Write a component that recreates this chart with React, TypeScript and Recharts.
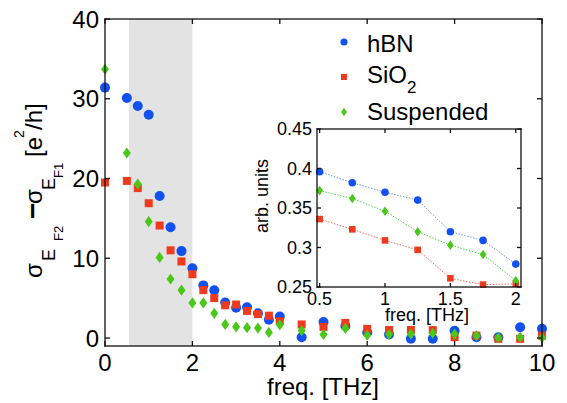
import React from "react";
import { ScatterChart, Scatter, LineChart, Line, XAxis, YAxis, ReferenceArea } from "recharts";

const FONT = "'Liberation Sans', Arial, Helvetica, sans-serif";
const BLUE = "#1250f0";
const RED = "#ee3a1e";
const GREEN = "#4ac81a";

// main panel: conductivity difference vs frequency
const freq = [0, 0.5, 0.75, 1, 1.25, 1.5, 1.75, 2, 2.25, 2.5, 2.75, 3, 3.25, 3.5, 3.75, 4, 4.5, 5, 5.5, 6, 6.5, 7, 7.5, 8, 8.5, 9, 9.5, 10];
const hbn = [31.4, 30.1, 29.1, 28.0, 17.8, 13.9, 10.9, 8.75, 6.6, 6.0, 4.45, 3.8, 3.85, 3.1, 2.3, 2.7, 0.1, 2.0, 1.5, 0.7, 0.45, -0.1, -0.1, 0.9, 0.1, 0.1, 1.35, 1.15];
const sio2 = [19.5, 19.7, 18.8, 16.9, 14.1, 11.0, 9.6, 8.0, 6.0, 5.0, 4.1, 4.2, 3.4, 3.0, 2.8, 2.1, 1.7, 1.4, 1.9, 1.15, 1.0, 1.0, 1.0, 0.1, 0.3, -0.1, -0.1, 0.3];
const suspended = [33.7, 23.2, 19.3, 14.6, 10.1, 7.4, 6.0, 4.4, 4.4, 3.1, 1.7, 1.4, 1.3, 1.25, 0.7, 1.65, 0.94, 0.44, 1.2, 0.35, 0.44, 0.5, 0.6, 0.5, 0.3, 0.05, 0.1, 0.05];
const xDomain = [0, 10];
const yDomain = [-1, 40];
const xTicks = [0, 2, 4, 6, 8, 10];
const yTicks = [0, 10, 20, 30, 40];
const band = [0.55, 2];

// inset
const insetFreq = [0.5, 0.75, 1, 1.25, 1.5, 1.75, 2];
const insetHbn = [0.396, 0.382, 0.37, 0.36, 0.32, 0.309, 0.279];
const insetSio2 = [0.336, 0.323, 0.309, 0.297, 0.261, 0.253, 0.254];
const insetSusp = [0.372, 0.362, 0.346, 0.32, 0.303, 0.291, 0.258];
const insetXDomain = [0.48, 2.04];
const insetYDomain = [0.25, 0.45];
const insetXTicks = [0.5, 1, 1.5, 2];
const insetYTicks = [0.25, 0.3, 0.35, 0.4, 0.45];

const toPoints = (ys: number[]) => freq.map((x, i) => ({ x, y: ys[i] }));
const insetData = insetFreq.map((f, i) => ({ f, hbn: insetHbn[i], sio2: insetSio2[i], susp: insetSusp[i] }));

// plot boxes in page pixels (follow from the chart sizes / margins below)
const MAIN = { left: 105, right: 542, top: 19, bottom: 346 };
const INSET_POS = { left: 250, top: 110, width: 290, height: 220 };
const INSET = { left: 250 + 67, right: 250 + 290 - 19, top: 110 + 19, bottom: 110 + 220 - 43 };

const Marker = ({ cx, cy, kind, color, s }: any) => {
  if (cx == null || cy == null) return null;
  if (kind === "circle") return <circle cx={cx} cy={cy} r={s} fill={color} />;
  if (kind === "square") return <rect x={cx - s} y={cy - s} width={2 * s} height={2 * s} fill={color} />;
  return (
    <polygon
      points={`${cx},${cy - 1.4 * s} ${cx + s},${cy} ${cx},${cy + 1.4 * s} ${cx - s},${cy}`}
      fill={color}
    />
  );
};

// matlab style frame, inward ticks on every side (drawn as thin filled bars)
const Frame = ({ box, xd, yd, xt, yt, len }: any) => {
  const w = 1.3;
  const sx = (v: number) => box.left + ((v - xd[0]) / (xd[1] - xd[0])) * (box.right - box.left);
  const sy = (v: number) => box.bottom - ((v - yd[0]) / (yd[1] - yd[0])) * (box.bottom - box.top);
  const W = box.right - box.left;
  const H = box.bottom - box.top;
  return (
    <g fill="#111">
      <rect x={box.left - w / 2} y={box.top - w / 2} width={W + w} height={w} />
      <rect x={box.left - w / 2} y={box.bottom - w / 2} width={W + w} height={w} />
      <rect x={box.left - w / 2} y={box.top - w / 2} width={w} height={H + w} />
      <rect x={box.right - w / 2} y={box.top - w / 2} width={w} height={H + w} />
      {xt.map((t: number) => (
        <g key={`x${t}`}>
          <rect x={sx(t) - w / 2} y={box.bottom - len} width={w} height={len} />
          <rect x={sx(t) - w / 2} y={box.top} width={w} height={len} />
        </g>
      ))}
      {yt.map((t: number) => (
        <g key={`y${t}`}>
          <rect x={box.left} y={sy(t) - w / 2} width={len} height={w} />
          <rect x={box.right - len} y={sy(t) - w / 2} width={len} height={w} />
        </g>
      ))}
    </g>
  );
};

const legendRows = [
  { name: "hBN", sub: "", kind: "circle", color: BLUE, my: 42, base: 52, s: 3.6 },
  { name: "SiO", sub: "2", kind: "square", color: RED, my: 77, base: 83, s: 3 },
  { name: "Suspended", sub: "", kind: "diamond", color: GREEN, my: 112, base: 119.5, s: 3 },
];

export default function App() {
  const tickStyle = { fontSize: 24, fill: "#000", fontFamily: FONT };
  const insetTick = { fontSize: 18, fill: "#000", fontFamily: FONT };
  return (
    <div style={{ position: "absolute", left: 0, top: 0, width: 567, height: 403, background: "#fff" }}>
      <ScatterChart width={567} height={403} margin={{ top: 19, right: 25, bottom: 0, left: 0 }}>
        <ReferenceArea x1={band[0]} x2={band[1]} fill="#e3e3e3" fillOpacity={1} stroke="none" />
        <XAxis type="number" dataKey="x" domain={xDomain} ticks={xTicks} height={57}
          axisLine={false} tickLine={false} tickSize={-5} tickMargin={13} tick={tickStyle} />
        <YAxis type="number" dataKey="y" domain={yDomain} ticks={yTicks} width={105}
          axisLine={false} tickLine={false} tickSize={-5} tickMargin={11} tick={tickStyle} />
        <Scatter name="hBN" data={toPoints(hbn)} isAnimationActive={false}
          shape={(p: any) => <Marker cx={p.cx} cy={p.cy} kind="circle" color={BLUE} s={5} />} />
        <Scatter name="SiO2" data={toPoints(sio2)} isAnimationActive={false}
          shape={(p: any) => <Marker cx={p.cx} cy={p.cy} kind="square" color={RED} s={4} />} />
        <Scatter name="Suspended" data={toPoints(suspended)} isAnimationActive={false}
          shape={(p: any) => <Marker cx={p.cx} cy={p.cy} kind="diamond" color={GREEN} s={4} />} />
      </ScatterChart>

      <div style={{ position: "absolute", ...INSET_POS }}>
        <LineChart width={INSET_POS.width} height={INSET_POS.height} data={insetData} margin={{ top: 19, right: 19, bottom: 0, left: 0 }}>
          <XAxis type="number" dataKey="f" domain={insetXDomain} ticks={insetXTicks} height={43}
            axisLine={false} tickLine={false} tickSize={-4} tickMargin={9} tick={insetTick} />
          <YAxis type="number" domain={insetYDomain} ticks={insetYTicks} width={67}
            axisLine={false} tickLine={false} tickSize={-4} tickMargin={9} tick={insetTick} />
          <Line dataKey="hbn" stroke="#6f90f0" strokeWidth={1} strokeDasharray="1.5 1.5" isAnimationActive={false}
            dot={(p: any) => <Marker key={p.index} cx={p.cx} cy={p.cy} kind="circle" color={BLUE} s={3.8} />} />
          <Line dataKey="sio2" stroke="#f07060" strokeWidth={1} strokeDasharray="1.5 1.5" isAnimationActive={false}
            dot={(p: any) => <Marker key={p.index} cx={p.cx} cy={p.cy} kind="square" color={RED} s={3.3} />} />
          <Line dataKey="susp" stroke="#40dd40" strokeWidth={1} strokeDasharray="1.5 1.5" isAnimationActive={false}
            dot={(p: any) => <Marker key={p.index} cx={p.cx} cy={p.cy} kind="diamond" color={GREEN} s={3.4} />} />
        </LineChart>
      </div>

      <svg width={567} height={403} style={{ position: "absolute", left: 0, top: 0, pointerEvents: "none" }}>
        <Frame box={MAIN} xd={xDomain} yd={yDomain} xt={xTicks} yt={yTicks} len={5} />
        <Frame box={INSET} xd={insetXDomain} yd={insetYDomain} xt={insetXTicks} yt={insetYTicks} len={4} />
        {legendRows.map((r) => (
          <g key={r.name}>
            <Marker cx={344} cy={r.my} kind={r.kind} color={r.color} s={r.s} />
            <text x={367} y={r.base} fontSize={24} fontFamily={FONT} fill="#000">
              {r.name}
              {r.sub && <tspan fontSize={17} dy={10}>{r.sub}</tspan>}
            </text>
          </g>
        ))}
        <text x={323} y={395} fontSize={24} fontFamily={FONT} textAnchor="middle" fill="#000">freq. [THz]</text>
        <text x={427} y={321} fontSize={18} fontFamily={FONT} textAnchor="middle" fill="#000">freq. [THz]</text>
        <text transform="translate(268,196) rotate(-90)" fontSize={18} fontFamily={FONT} textAnchor="middle" fill="#000">arb. units</text>
        <text transform="translate(42,278) rotate(-90)" fontFamily={FONT} fill="#000">
          <tspan x={0} y={0} fontSize={24}>σ</tspan>
          <tspan x={17} y={13} fontSize={18}>E</tspan>
          <tspan x={37} y={21} fontSize={13}>F2</tspan>
          <tspan x={59} y={0} fontSize={28} fontWeight="bold">−</tspan>
          <tspan x={74} y={0} fontSize={24}>σ</tspan>
          <tspan x={88} y={13} fontSize={18}>E</tspan>
          <tspan x={100} y={21} fontSize={13}>F1</tspan>
          <tspan x={121} y={0} fontSize={24}>[e</tspan>
          <tspan x={140} y={-18} fontSize={14}>2</tspan>
          <tspan x={148} y={0} fontSize={24}>/h]</tspan>
        </text>
      </svg>
    </div>
  );
}
